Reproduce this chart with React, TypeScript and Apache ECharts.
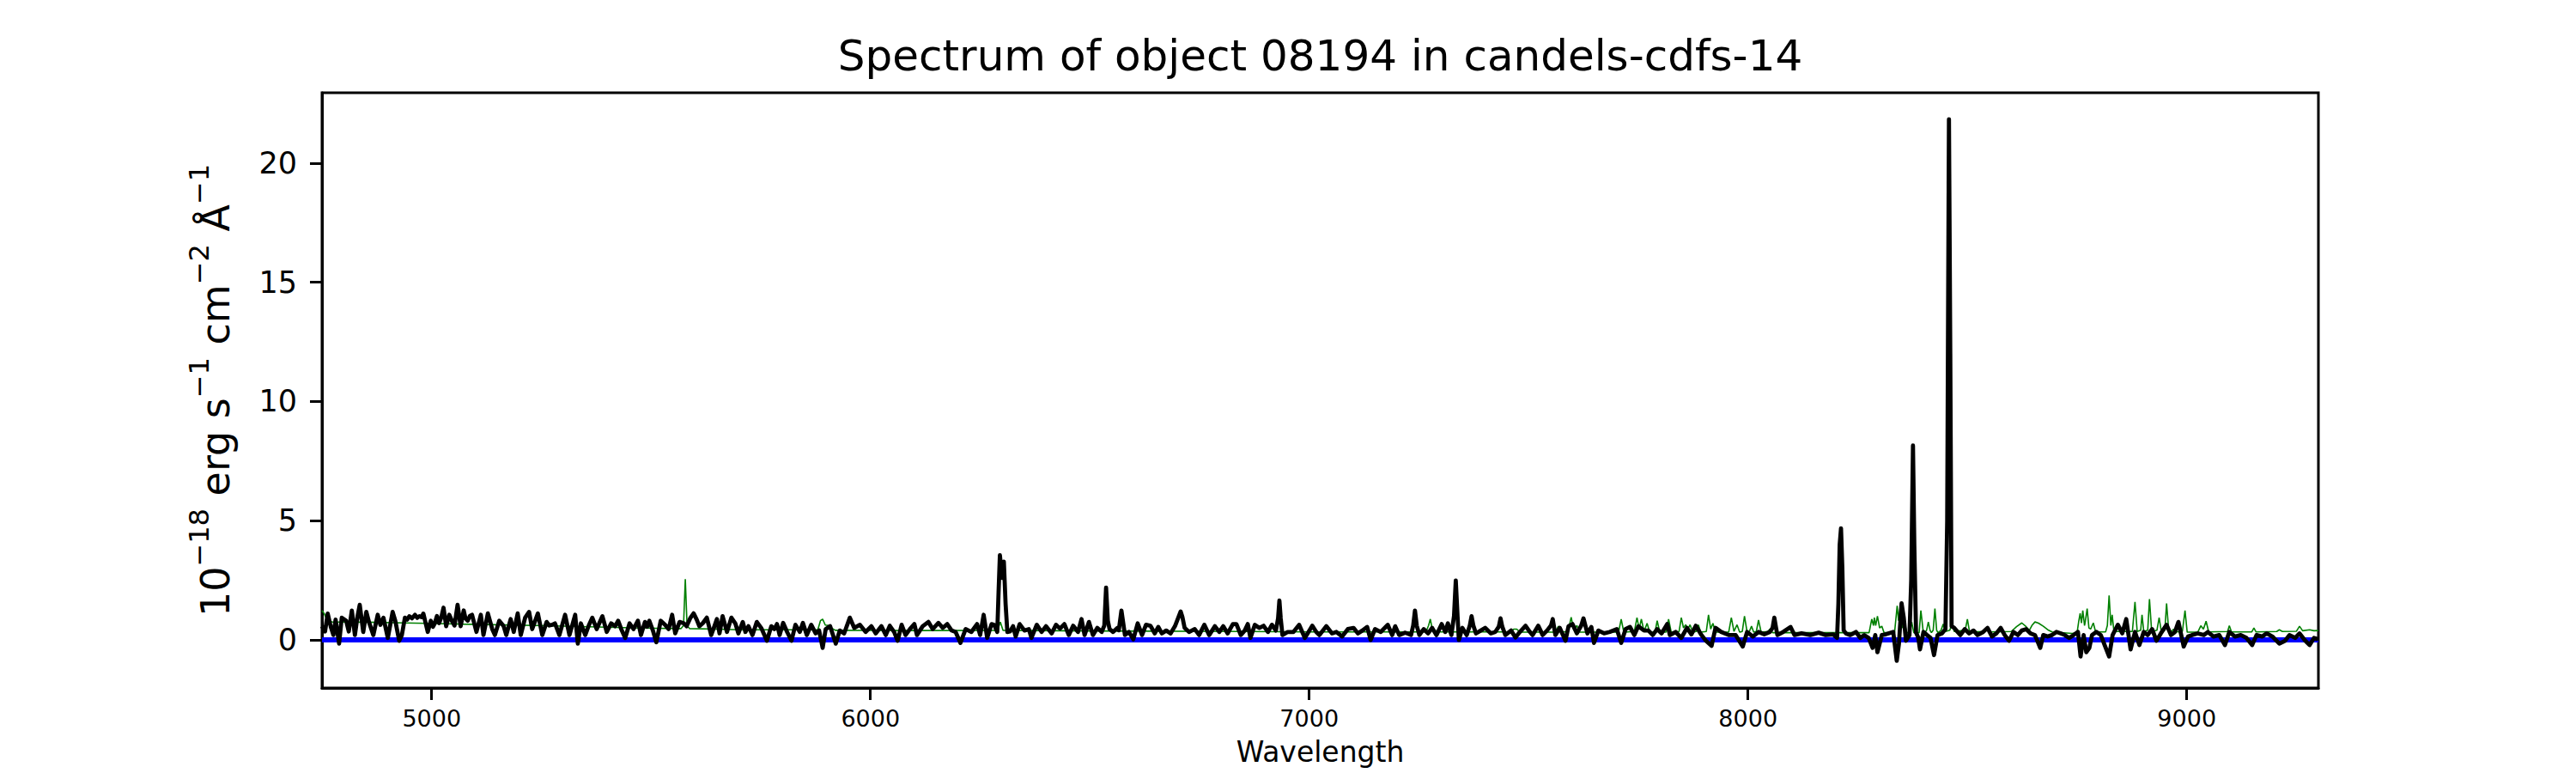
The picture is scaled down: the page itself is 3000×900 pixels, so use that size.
import React, { useEffect, useRef } from "react";
import * as echarts from "echarts";

const TITLE = "Spectrum of object 08194 in candels-cdfs-14";
const X_LABEL = "Wavelength";
const X_TICKS = [5000, 6000, 7000, 8000, 9000];
const Y_TICKS = [0, 5, 10, 15, 20];
const X_MIN = 4750;
const X_MAX = 9300;
const Y_MIN = -2.02;
const Y_MAX = 22.95;

// Observed flux (black)
const FLUX_WAVE = [
  4750, 4757, 4763, 4770, 4776, 4781, 4789, 4795, 4805, 4811, 4818, 4825, 4831, 4836, 4844, 4851, 4857, 4867, 4877, 4883,
  4890, 4900, 4911, 4917, 4926, 4932, 4939, 4944, 4949, 4955, 4962, 4967, 4972, 4977, 4981, 4991, 4998, 5003, 5007, 5012,
  5017, 5022, 5027, 5033, 5040, 5046, 5052, 5059, 5066, 5073, 5077, 5082, 5087, 5092, 5102, 5112, 5118, 5128, 5138, 5144,
  5154, 5164, 5170, 5180, 5187, 5196, 5203, 5213, 5222, 5229, 5242, 5252, 5262, 5268, 5275, 5281, 5291, 5304, 5314, 5327,
  5333, 5340, 5350, 5358, 5366, 5376, 5389, 5399, 5409, 5418, 5425, 5432, 5441, 5451, 5460, 5470, 5477, 5486, 5491, 5496,
  5504, 5512, 5522, 5532, 5540, 5548, 5555, 5565, 5575, 5581, 5589, 5597, 5604, 5610, 5618, 5627, 5637, 5644, 5650, 5656,
  5663, 5673, 5683, 5692, 5699, 5709, 5715, 5722, 5731, 5741, 5751, 5764, 5774, 5781, 5787, 5793, 5801, 5810, 5820, 5829,
  5839, 5846, 5855, 5865, 5875, 5883, 5891, 5898, 5908, 5921, 5930, 5940, 5953, 5963, 5976, 5989, 6002, 6012, 6025, 6035,
  6044, 6054, 6062, 6071, 6080, 6090, 6100, 6106, 6119, 6132, 6142, 6155, 6165, 6175, 6185, 6194, 6205, 6217, 6230, 6243,
  6250, 6258, 6266, 6276, 6282, 6289, 6292, 6295, 6300, 6304, 6308, 6312, 6318, 6325, 6331, 6340, 6351, 6361, 6367, 6379,
  6390, 6400, 6413, 6423, 6432, 6442, 6452, 6462, 6473, 6481, 6488, 6498, 6507, 6517, 6527, 6533, 6537, 6541, 6545, 6553,
  6563, 6566, 6572, 6580, 6589, 6599, 6609, 6619, 6628, 6638, 6648, 6656, 6664, 6674, 6684, 6694, 6701, 6707, 6711, 6716,
  6726, 6739, 6749, 6761, 6772, 6785, 6795, 6804, 6814, 6826, 6834, 6844, 6853, 6860, 6866, 6876, 6886, 6896, 6906, 6915,
  6924, 6929, 6932, 6935, 6939, 6951, 6964, 6977, 6990, 7007, 7016, 7023, 7039, 7052, 7062, 7075, 7088, 7101, 7111, 7121,
  7132, 7140, 7150, 7163, 7179, 7189, 7196, 7205, 7219, 7232, 7237, 7241, 7245, 7251, 7261, 7271, 7280, 7290, 7302, 7310,
  7316, 7324, 7330, 7334, 7338, 7341, 7349, 7359, 7366, 7370, 7374, 7380, 7391, 7401, 7414, 7424, 7432, 7436, 7440, 7447,
  7460, 7470, 7480, 7493, 7503, 7509, 7522, 7532, 7542, 7551, 7555, 7561, 7571, 7584, 7591, 7600, 7610, 7620, 7625, 7634,
  7643, 7649, 7659, 7672, 7685, 7701, 7711, 7721, 7731, 7741, 7750, 7763, 7773, 7783, 7793, 7803, 7816, 7822, 7835, 7848,
  7861, 7871, 7881, 7894, 7904, 7917, 7926, 7939, 7956, 7972, 7988, 7998, 8011, 8024, 8037, 8050, 8056, 8060, 8064, 8067,
  8080, 8097, 8106, 8122, 8142, 8161, 8177, 8194, 8203, 8206, 8209, 8212, 8215, 8218, 8223, 8233, 8246, 8256, 8265, 8275,
  8284, 8290, 8295, 8305, 8314, 8331, 8339, 8344, 8350, 8355, 8360, 8368, 8372, 8376, 8379, 8383, 8388, 8392, 8400, 8408,
  8416, 8424, 8432, 8442, 8450, 8454, 8458, 8461, 8464, 8470, 8475, 8484, 8494, 8504, 8514, 8523, 8536, 8546, 8556, 8566,
  8576, 8585, 8595, 8605, 8615, 8624, 8634, 8644, 8654, 8666, 8673, 8683, 8693, 8703, 8713, 8722, 8732, 8742, 8752, 8758,
  8765, 8771, 8778, 8784, 8794, 8804, 8814, 8823, 8831, 8843, 8853, 8862, 8872, 8882, 8892, 8902, 8911, 8921, 8931, 8941,
  8954, 8964, 8973, 8981, 8993, 9003, 9012, 9025, 9039, 9048, 9061, 9074, 9087, 9097, 9110, 9123, 9136, 9149, 9159, 9172,
  9182, 9195, 9211, 9224, 9234, 9247, 9257, 9270, 9280, 9290, 9300,
];
const FLUX = [
  0.57, 0.35, 1.1, 0.55, 0.2, 0.85, -0.16, 0.93, 0.8, 0.35, 1.23, 0.2, 0.99, 1.47, 0.33, 1.17, 0.75, 0.2, 1.05, 0.63,
  0.93, 0.08, 1.17, 0.8, -0.04, 0.2, 0.93, 0.85, 0.99, 0.9, 1.05, 0.92, 0.99, 0.95, 1.1, 0.33, 0.8, 0.55, 0.69, 1.0,
  0.7, 0.95, 1.35, 0.57, 1.05, 0.8, 0.6, 1.47, 0.57, 1.23, 0.9, 0.8, 1.0, 1.05, 0.33, 1.05, 0.2, 1.11, 0.45, 0.2,
  0.8, 0.57, 0.2, 0.87, 0.33, 1.11, 0.2, 0.93, 1.17, 0.45, 1.11, 0.2, 0.75, 0.6, 0.63, 0.69, 0.2, 1.05, 0.2, 1.05,
  -0.16, 0.69, 0.2, 0.6, 0.93, 0.45, 0.99, 0.33, 0.69, 0.57, 0.8, 0.45, 0.08, 0.69, 0.45, 0.8, 0.2, 0.75, 0.55, 0.8,
  0.4, -0.1, 0.8, 0.63, 0.45, 1.05, 0.27, 0.75, 0.69, 0.57, 0.9, 1.11, 0.85, 0.57, 0.7, 0.93, 0.2, 0.55, 0.87, 0.27,
  0.99, 0.33, 0.93, 0.69, 0.27, 0.75, 0.33, 0.57, 0.2, 0.75, 0.5, -0.04, 0.57, 0.45, 0.66, 0.2, 0.71, 0.33, -0.04, 0.63,
  0.33, 0.71, 0.2, 0.63, 0.27, 0.39, -0.34, 0.45, 0.57, -0.16, 0.39, 0.27, 0.93, 0.5, 0.63, 0.33, 0.57, 0.27, 0.57, 0.2,
  0.59, 0.33, -0.04, 0.63, 0.2, 0.45, 0.66, 0.2, 0.57, 0.75, 0.45, 0.71, 0.5, 0.66, 0.39, 0.33, -0.13, 0.45, 0.33, 0.66,
  0.2, 1.05, 0.08, 0.66, 0.63, 0.33, 2.0, 3.55, 2.6, 3.28, 1.5, 0.33, 0.35, 0.57, 0.14, 0.66, 0.39, 0.45, 0.08, 0.63,
  0.33, 0.57, 0.27, 0.63, 0.47, 0.66, 0.2, 0.59, 0.33, 0.87, 0.2, 0.75, 0.2, 0.5, 0.33, 0.6, 2.19, 0.8, 0.45, 0.33,
  0.5, 0.4, 1.23, 0.2, 0.33, 0.02, 0.69, 0.2, 0.63, 0.59, 0.27, 0.54, 0.27, 0.39, 0.27, 0.57, 0.9, 1.19, 0.95, 0.5,
  0.33, 0.45, 0.2, 0.63, 0.2, 0.57, 0.33, 0.57, 0.27, 0.66, 0.66, 0.2, 0.39, 0.66, 0.08, 0.63, 0.5, 0.59, 0.33, 0.63,
  0.39, 0.9, 1.65, 0.9, 0.2, 0.33, 0.33, 0.63, 0.08, 0.59, 0.33, 0.2, 0.57, 0.27, 0.33, 0.14, 0.45, 0.5, 0.27, 0.39,
  0.54, -0.01, 0.45, 0.33, 0.63, 0.2, 0.57, 0.2, 0.3, 0.2, 0.6, 1.23, 0.6, 0.2, 0.45, 0.27, 0.5, 0.2, 0.66, 0.33,
  0.69, 0.2, 1.0, 2.49, 1.0, -0.01, 0.5, 0.2, 0.6, 0.99, 0.6, 0.27, 0.39, 0.5, 0.27, 0.33, 0.55, 0.9, 0.55, 0.2,
  0.39, 0.1, 0.33, 0.59, 0.33, 0.2, 0.59, 0.2, 0.39, 0.6, 0.87, 0.2, 0.5, -0.04, 0.57, 0.66, 0.27, 0.6, 0.9, 0.27,
  0.54, -0.13, 0.39, 0.27, 0.33, 0.45, -0.13, 0.45, 0.54, 0.2, 0.57, 0.39, 0.39, 0.2, 0.45, 0.27, 0.66, 0.2, 0.33, 0.08,
  0.5, 0.23, 0.59, 0.2, -0.04, -0.25, 0.5, 0.33, 0.2, 0.2, -0.28, 0.33, 0.14, 0.33, 0.23, 0.33, 0.5, 0.93, 0.5, 0.2,
  0.33, 0.54, 0.2, 0.27, 0.2, 0.3, 0.2, 0.23, 0.08, 1.5, 4.0, 4.68, 3.0, 0.4, 0.27, 0.2, 0.33, 0.08, 0.2, 0.08,
  -0.34, 0.2, -0.52, 0.2, 0.23, 0.33, -0.88, -0.16, 1.53, 0.93, -0.04, 0.2, 2.5, 8.15, 4.0, 0.3, 0.1, -0.4, 0.33, 0.2,
  0.08, -0.64, 0.2, 0.27, 0.45, 5.0, 21.84, 12.0, 0.57, 0.5, 0.39, 0.2, 0.45, 0.27, 0.39, 0.2, 0.33, 0.5, 0.14, 0.27,
  0.5, 0.2, -0.04, 0.33, 0.2, 0.39, 0.45, 0.27, 0.2, -0.34, 0.2, 0.14, 0.2, 0.33, 0.27, 0.2, 0.08, 0.2, 0.33, -0.7,
  0.2, -0.52, -0.34, 0.2, 0.33, 0.2, -0.28, -0.7, 0.2, 0.63, 0.27, 0.87, -0.4, 0.33, -0.22, 0.33, 0.2, 0.45, -0.04, 0.27,
  0.63, 0.2, 0.33, 0.75, -0.28, 0.14, 0.2, 0.27, 0.2, 0.33, 0.14, 0.2, -0.22, 0.33, 0.14, 0.2, 0.08, -0.22, 0.2, 0.14,
  0.27, 0.14, -0.16, -0.04, 0.2, 0.08, 0.27, -0.04, -0.22, 0.08, 0.02,
];

// Sky / noise spectrum (green)
const SKY_WAVE = [
  4750, 4755, 4762, 4773, 4850, 4936, 5066, 5262, 5457, 5568, 5574, 5578, 5582, 5588, 5653, 5700, 5880, 5886, 5891, 5897,
  5904, 5911, 5920, 6100, 6290, 6296, 6302, 6500, 6860, 7000, 7266, 7272, 7276, 7281, 7300, 7460, 7466, 7473, 7480, 7560,
  7568, 7574, 7590, 7597, 7603, 7610, 7616, 7705, 7711, 7717, 7741, 7747, 7752, 7757, 7763, 7770, 7776, 7788, 7793, 7799,
  7813, 7819, 7825, 7843, 7848, 7853, 7858, 7863, 7868, 7874, 7882, 7887, 7892, 7905, 7910, 7915, 7920, 7926, 7956, 7962,
  7968, 7975, 7981, 7987, 7992, 7998, 8003, 8008, 8013, 8019, 8024, 8030, 8045, 8050, 8056, 8276, 8282, 8286, 8288, 8291,
  8295, 8300, 8305, 8310, 8334, 8340, 8343, 8347, 8352, 8357, 8362, 8369, 8373, 8378, 8390, 8394, 8399, 8403, 8407, 8411,
  8415, 8418, 8422, 8426, 8430, 8433, 8440, 8445, 8450, 8460, 8465, 8470, 8495, 8500, 8505, 8540, 8546, 8552, 8600, 8612,
  8624, 8634, 8641, 8647, 8654, 8662, 8673, 8685, 8693, 8739, 8750, 8754, 8757, 8760, 8763, 8767, 8769, 8773, 8777, 8781,
  8787, 8792, 8797, 8815, 8819, 8823, 8827, 8830, 8834, 8876, 8882, 8887, 8895, 8898, 8902, 8911, 8915, 8920, 8932, 8937,
  8942, 8950, 8954, 8959, 8965, 8970, 8975, 8990, 8996, 9001, 9025, 9032, 9038, 9044, 9050, 9093, 9097, 9102, 9148, 9153,
  9158, 9205, 9211, 9218, 9250, 9257, 9264, 9280, 9290, 9300,
];
const SKY = [
  1.23, 1.1, 0.8, 0.75, 0.74, 0.71, 0.66, 0.59, 0.5, 0.47, 0.6, 2.55, 0.6, 0.47, 0.45, 0.42, 0.42, 0.8, 0.87, 0.62,
  0.6, 0.5, 0.4, 0.39, 0.4, 0.75, 0.4, 0.37, 0.35, 0.33, 0.33, 0.6, 0.87, 0.4, 0.33, 0.33, 0.45, 0.45, 0.32, 0.32,
  0.57, 0.32, 0.35, 0.95, 0.4, 0.6, 0.32, 0.32, 0.87, 0.32, 0.35, 0.93, 0.45, 0.87, 0.35, 0.69, 0.32, 0.32, 0.8, 0.32,
  0.32, 0.87, 0.32, 0.35, 0.93, 0.5, 0.63, 0.45, 0.63, 0.32, 0.35, 0.63, 0.32, 0.35, 1.05, 0.45, 0.69, 0.32, 0.32, 0.93,
  0.35, 0.63, 0.32, 0.35, 0.99, 0.32, 0.35, 0.57, 0.32, 0.35, 0.83, 0.32, 0.35, 0.45, 0.3, 0.3, 0.87, 0.6, 0.93, 0.6,
  0.99, 0.5, 0.57, 0.3, 0.3, 1.43, 0.8, 1.41, 0.5, 0.69, 0.3, 0.3, 0.75, 0.3, 0.3, 1.23, 0.4, 0.3, 0.4, 0.75,
  0.4, 0.3, 0.4, 1.31, 0.4, 0.3, 0.4, 0.66, 0.35, 0.4, 0.69, 0.35, 0.4, 0.87, 0.33, 0.35, 0.5, 0.33, 0.35, 0.55,
  0.71, 0.55, 0.39, 0.6, 0.75, 0.7, 0.57, 0.4, 0.33, 0.27, 0.3, 0.8, 1.11, 0.7, 1.23, 0.6, 0.8, 1.31, 0.5, 0.45,
  0.71, 0.35, 0.33, 0.33, 0.6, 1.86, 0.6, 1.05, 0.35, 0.35, 1.59, 0.35, 0.4, 1.05, 0.35, 0.4, 1.71, 0.35, 0.4, 0.93,
  0.35, 0.4, 1.53, 0.35, 0.35, 0.45, 0.33, 0.35, 1.23, 0.32, 0.32, 0.59, 0.45, 0.78, 0.33, 0.35, 0.59, 0.33, 0.33, 0.5,
  0.33, 0.35, 0.42, 0.35, 0.36, 0.57, 0.38, 0.42, 0.38, 0.39,
];

// Zero / continuum level (blue)
const ZERO_WAVE = [4750, 9300];
const ZERO = [0, 0];

const FONT = "DejaVu Sans";

const pairs = (w: number[], f: number[]) => w.map((x, i) => [x, f[i]]);

export default function App() {
  const ref = useRef<HTMLDivElement>(null);
  useEffect(() => {
    if (!ref.current) return;
    const chart = echarts.init(ref.current, undefined, { renderer: "svg" });
    chart.setOption({
      animation: false,
      backgroundColor: "#ffffff",
      grid: {
        left: 375,
        right: 300,
        top: 108,
        bottom: 99,
        show: true,
        borderColor: "#000",
        borderWidth: 3,
        backgroundColor: "transparent",
      },
      graphic: [
        {
          type: "text",
          x: 1537.5,
          y: 65,
          style: {
            text: TITLE,
            fontSize: 50,
            fontFamily: FONT,
            fill: "#000",
            align: "center",
            verticalAlign: "middle",
            textAlign: "center",
            textVerticalAlign: "middle",
          },
        },
      ],
      xAxis: {
        type: "value",
        min: X_MIN,
        max: X_MAX,
        name: X_LABEL,
        nameLocation: "middle",
        nameGap: 58,
        nameTextStyle: { fontSize: 33, fontFamily: FONT, color: "#000" },
        axisLine: { show: true, onZero: false, lineStyle: { color: "#000", width: 3 } },
        axisTick: {
          show: true,
          inside: false,
          length: 14,
          lineStyle: { color: "#000", width: 3 },
          customValues: X_TICKS,
        },
        axisLabel: {
          customValues: X_TICKS,
          formatter: (v: number) => String(v),
          color: "#000",
          fontSize: 27,
          fontFamily: FONT,
          margin: 22,
        },
        splitLine: { show: false },
      },
      yAxis: {
        type: "value",
        min: Y_MIN,
        max: Y_MAX,
        name: "{n|10}{s|−18}{n| erg s}{s|−1}{n| cm}{s|−2}{n| Å}{s|−1}",
        nameLocation: "middle",
        nameRotate: 90,
        nameGap: 89,
        nameTextStyle: {
          rich: {
            n: { fontSize: 46, fontFamily: FONT, color: "#000", lineHeight: 70 },
            s: { fontSize: 32, fontFamily: FONT, color: "#000", lineHeight: 36, verticalAlign: "top" },
          },
        },
        axisLine: { show: true, onZero: false, lineStyle: { color: "#000", width: 3 } },
        axisTick: {
          show: true,
          inside: false,
          length: 14,
          lineStyle: { color: "#000", width: 3 },
          customValues: Y_TICKS,
        },
        axisLabel: {
          customValues: Y_TICKS,
          formatter: (v: number) => String(v),
          color: "#000",
          fontSize: 35,
          fontFamily: FONT,
          margin: 29,
        },
        splitLine: { show: false },
      },
      series: [
        {
          name: "sky",
          type: "line",
          data: pairs(SKY_WAVE, SKY),
          showSymbol: false,
          symbol: "none",
          silent: true,
          lineStyle: { color: "#008000", width: 1.6 },
          itemStyle: { color: "#008000" },
          z: 2,
        },
        {
          name: "zero",
          type: "line",
          data: pairs(ZERO_WAVE, ZERO),
          showSymbol: false,
          symbol: "none",
          silent: true,
          lineStyle: { color: "#0000ff", width: 6 },
          itemStyle: { color: "#0000ff" },
          z: 3,
        },
        {
          name: "flux",
          type: "line",
          data: pairs(FLUX_WAVE, FLUX),
          showSymbol: false,
          symbol: "none",
          silent: true,
          lineStyle: { color: "#000000", width: 4.8, join: "round" },
          itemStyle: { color: "#000000" },
          z: 4,
        },
      ],
    });
    return () => chart.dispose();
  }, []);
  return (
    <div
      ref={ref}
      style={{ position: "absolute", left: 0, top: 0, width: 3000, height: 900, background: "#fff" }}
    />
  );
}
